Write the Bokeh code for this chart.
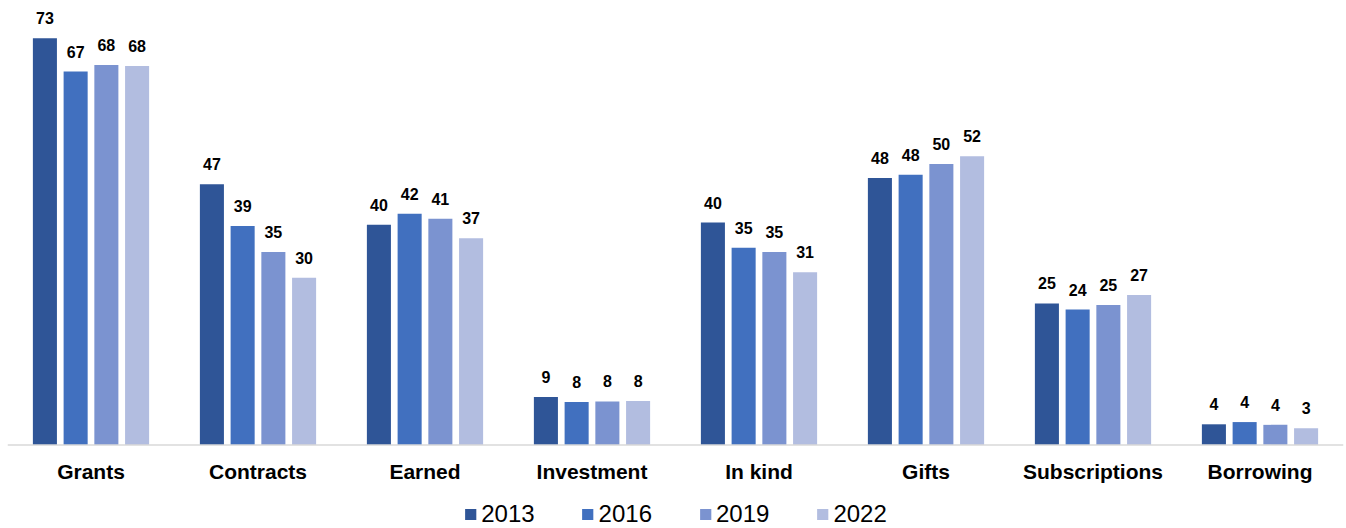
from bokeh.plotting import figure
from bokeh.models import ColumnDataSource, FactorRange, Range1d, LabelSet, Legend, LegendItem, Span
from bokeh.transform import dodge
from bokeh.core.properties import value
from bokeh.embed import file_html
from bokeh.resources import INLINE

categories = ["Grants", "Contracts", "Earned", "Investment", "In kind", "Gifts", "Subscriptions", "Borrowing"]
years = ["2013", "2016", "2019", "2022"]
v2013 = [73.0, 46.8, 39.5, 8.6, 39.9, 47.9, 25.4, 3.7]
v2016 = [67.0, 39.3, 41.5, 7.7, 35.4, 48.5, 24.3, 4.1]
v2019 = [68.2, 34.6, 40.6, 7.8, 34.6, 50.4, 25.1, 3.6]
v2022 = [68.0, 30.0, 37.1, 7.9, 31.0, 51.8, 26.9, 3.0]
colors = ["#2F5597", "#4170BF", "#7B93D0", "#B2BDE0"]

series = [v2013, v2016, v2019, v2022]
offsets = [-0.276, -0.092, 0.092, 0.276]
FONT = "Liberation Sans"

p = figure(x_range=FactorRange(*categories), y_range=Range1d(-15.0, 78.5),
           width=1346, height=528, output_backend="svg",
           toolbar_location=None, min_border_left=7, min_border_right=3,
           min_border_top=7, min_border_bottom=0)

items = []
for yr, vals, off, col in zip(years, series, offsets, colors):
    src = ColumnDataSource(dict(cat=categories, val=vals, lab=[str(int(round(v))) for v in vals]))
    r = p.vbar(x=dodge("cat", off, range=p.x_range), top="val", width=0.144, source=src,
               fill_color=col, line_color=None)
    items.append(LegendItem(label=yr, renderers=[r]))
    lbl = LabelSet(x=dodge("cat", off, range=p.x_range), y="val", text="lab", source=src,
                   text_align="center", text_baseline="alphabetic", y_offset=14,
                   text_font=value(FONT), text_font_size=value("16px"),
                   text_font_style=value("bold"), text_color=value("black"))
    p.add_layout(lbl)

# baseline (category axis line)
p.add_layout(Span(location=0, dimension="width", line_color="#d9d9d9", line_width=1.5))

# category labels
csrc = ColumnDataSource(dict(cat=categories, zero=[0] * len(categories)))
p.add_layout(LabelSet(x="cat", y="zero", text="cat", source=csrc,
                      text_align="center", text_baseline="middle", y_offset=-27,
                      text_font=value(FONT), text_font_size=value("21px"),
                      text_font_style=value("bold"), text_color=value("black")))

p.xgrid.grid_line_color = None
p.ygrid.grid_line_color = None
p.xaxis.visible = False
p.yaxis.visible = False
p.outline_line_color = None
p.x_range.range_padding = 0
p.x_range.group_padding = 0

legend = Legend(items=items, orientation="horizontal", location="bottom_center",
                label_text_font=FONT, label_text_font_size="24px", label_text_color="black",
                glyph_width=14, glyph_height=14, label_standoff=4, spacing=46,
                border_line_color=None, padding=0, margin=0, background_fill_alpha=0)
p.add_layout(legend, "center")

open("out.html", "w").write(file_html(p, INLINE))
